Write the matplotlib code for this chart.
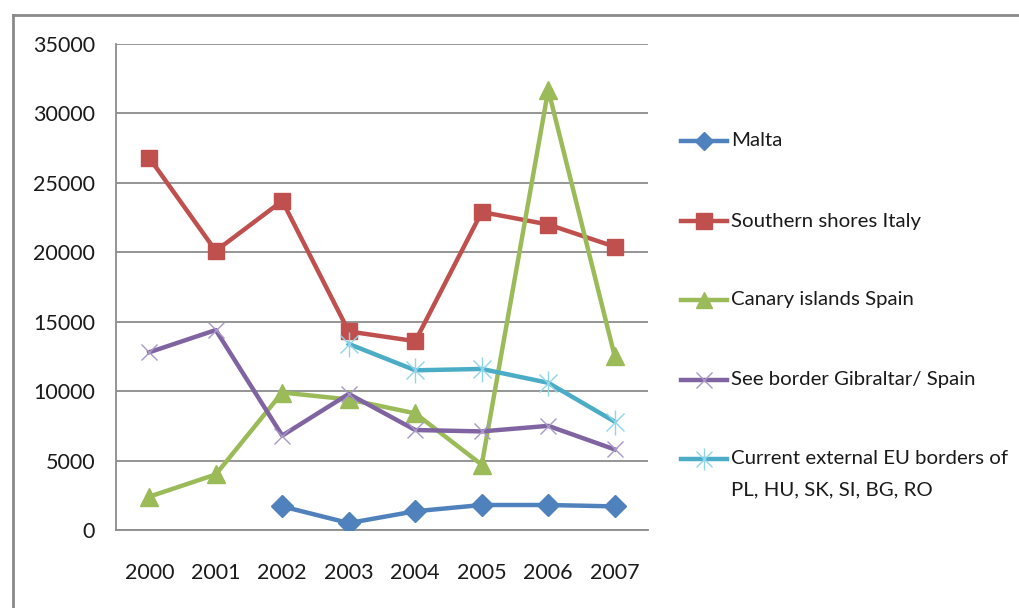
import numpy as np
import matplotlib
matplotlib.use("Agg")
import matplotlib.pyplot as plt
from matplotlib.lines import Line2D

plt.rcParams['font.family'] = ['Lato', 'DejaVu Sans']

years = ["2000", "2001", "2002", "2003", "2004", "2005", "2006", "2007"]

malta = [np.nan, np.nan, 1700, 500, 1350, 1800, 1800, 1700]
italy = [26800, 20100, 23700, 14300, 13600, 22900, 22000, 20400]
canary = [2400, 4000, 9900, 9400, 8400, 4700, 31700, 12500]
gibraltar = [12800, 14400, 6800, 9800, 7200, 7100, 7500, 5800]
eu_east = [np.nan, np.nan, np.nan, 13400, 11500, 11600, 10600, 7800]

labels = ["Malta", "Southern shores Italy", "Canary islands Spain",
          "See border Gibraltar/ Spain",
          "Current external EU borders of\nPL, HU, SK, SI, BG, RO"]

BLUE = "#4F81BD"
RED = "#C0504D"
GREEN = "#9BBB59"
PURPLE = "#8064A2"
CYAN = "#4BACC6"
GRID = "#8c8c8c"
TXT = "#1a1a1a"
FS = 15.5
LEG_FS = 14.7

fig = plt.figure(figsize=(10.2, 6.08), dpi=100)
ax = fig.add_axes([116 / 1020, 1 - 530 / 608, 532 / 1020, 486 / 608])

x = np.arange(len(years))
lw = 3.2

ax.plot(x, malta, color=BLUE, lw=lw, marker="D", ms=11, mec=BLUE, zorder=3)
ax.plot(x, italy, color=RED, lw=lw, marker="s", ms=12, mec=RED, zorder=3)
ax.plot(x, canary, color=GREEN, lw=lw, marker="^", ms=13, mec=GREEN, zorder=3)
ax.plot(x, gibraltar, color=PURPLE, lw=lw, zorder=3)
ax.plot(x, gibraltar, ls="none", marker="x", ms=12, mew=1.0, color="#a898c8", zorder=4)
ax.plot(x, eu_east, color=CYAN, lw=lw, zorder=3)
ax.plot(x, eu_east, ls="none", marker="x", ms=13, mew=1.0, color="#8fd6ea", zorder=4)
ax.plot(x, eu_east, ls="none", marker="|", ms=18, mew=1.0, color="#8fd6ea", zorder=4)

ax.set_xlim(-0.5, len(years) - 0.5)
ax.set_ylim(0, 35000)
ax.set_yticks(np.arange(0, 35001, 5000))
ax.set_xticks(x)
ax.set_xticklabels(years)
ax.tick_params(length=0, labelsize=FS, colors=TXT)
ax.tick_params(axis="y", pad=15)
ax.tick_params(axis="x", pad=24)
ax.yaxis.grid(True, color=GRID, lw=1.3)
ax.set_axisbelow(True)
for s in ["top", "right"]:
    ax.spines[s].set_visible(False)
for s in ["left", "bottom"]:
    ax.spines[s].set_color(GRID)
    ax.spines[s].set_linewidth(1.3)

# outer frame (only top and left edges fall inside the picture)
W, H = 1020, 608
fig.add_artist(Line2D([13 / W, 13 / W], [0, 1 - 15 / H], color="#8a8a8a", lw=2))
fig.add_artist(Line2D([13 / W, 1], [1 - 15 / H, 1 - 15 / H], color="#8a8a8a", lw=2))

# legend drawn by hand so the handle sits on the first line of the last label
leg_y = [141, 221, 300, 380, 459]
styles = [(BLUE, "D", 9, BLUE), (RED, "s", 11, RED), (GREEN, "^", 11, GREEN),
          (PURPLE, "x", 12, "#a898c8"), (CYAN, "x", 12, "#8fd6ea")]
for yy, lab, (c, m, ms, mc) in zip(leg_y, labels, styles):
    fy = 1 - yy / H
    fig.add_artist(Line2D([681 / W, 727 / W], [fy, fy], color=c, lw=lw))
    fig.add_artist(Line2D([704 / W], [fy], marker=m, ms=ms, color=mc, mec=mc, mew=1.0, ls="none"))
    if lab.startswith("Current"):
        fig.add_artist(Line2D([704 / W], [fy], marker="|", ms=16, color=mc, mew=1.0, ls="none"))
    for k, t in enumerate(lab.split("\n")):
        fig.text(731 / W, fy - k * 31 / H, t, fontsize=LEG_FS, va="center", ha="left", color=TXT)

fig.savefig("out.png", dpi=100)
